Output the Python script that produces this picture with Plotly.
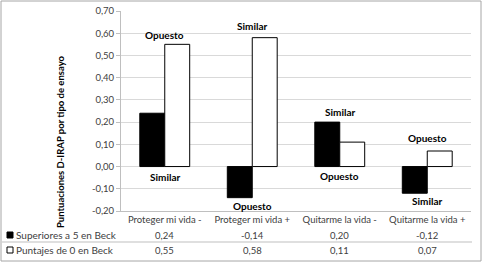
import plotly.graph_objects as go

categories = ["Proteger mi vida -", "Proteger mi vida +", "Quitarme la vida -", "Quitarme la vida +"]
series_names = ["Superiores a 5 en Beck", "Puntajes de 0 en Beck"]
beck_high = [0.24, -0.14, 0.20, -0.12]
beck_zero = [0.55, 0.58, 0.11, 0.07]
top_labels = ["Opuesto", "Similar", "Similar", "Opuesto"]
bottom_labels = ["Similar", "Opuesto", "Opuesto", "Similar"]
y_ticks = [-0.20, -0.10, 0.00, 0.10, 0.20, 0.30, 0.40, 0.50, 0.60, 0.70]

# label pixel nudges (style only)
top_shift = [0, 3, 1, 4]
bottom_shift = [-1, 1, 0, 1]

W, H = 482, 263
L, R, T, B = 121, 11, 11, 52
pw, ph = W - L - R, H - T - B

def px(x):
    return (x - L) / pw

def py(y):
    return (H - B - y) / ph

def fmt(v):
    return f"{v:.2f}".replace(".", ",")

FONT = "Lato"
TXT = "#404040"

fig = go.Figure()
fig.add_trace(go.Bar(x=categories, y=beck_high, name=series_names[0],
                     marker=dict(color="#000000", line=dict(color="#000000", width=1))))
fig.add_trace(go.Bar(x=categories, y=beck_zero, name=series_names[1],
                     marker=dict(color="#ffffff", line=dict(color="#000000", width=1))))

annotations = []
for i, (c, a, b, t, bl) in enumerate(zip(categories, beck_high, beck_zero, top_labels, bottom_labels)):
    annotations.append(dict(x=c, y=max(a, b, 0), xref="x", yref="y", text=f"<b>{t}</b>",
                            showarrow=False, yanchor="bottom", yshift=1 + top_shift[i],
                            font=dict(family=FONT, size=10, color="#000000")))
    annotations.append(dict(x=c, y=min(a, b, 0), xref="x", yref="y", text=f"<b>{bl}</b>",
                            showarrow=False, yanchor="top", yshift=-1 + bottom_shift[i],
                            font=dict(family=FONT, size=10, color="#000000")))

row_y = [235, 250]
for vals, ry in zip([beck_high, beck_zero], row_y):
    for c, v in zip(categories, vals):
        annotations.append(dict(x=c, y=py(ry), xref="x", yref="paper", text=fmt(v),
                                showarrow=False, yanchor="middle",
                                font=dict(family=FONT, size=9.5, color=TXT)))

for name, ry in zip(series_names, row_y):
    annotations.append(dict(x=px(14), y=py(ry), xref="paper", yref="paper", text=name,
                            xanchor="left", yanchor="middle", showarrow=False,
                            font=dict(family=FONT, size=10, color=TXT)))

annotations.append(dict(x=px(60), y=py(142), xref="paper", yref="paper",
                        xanchor="center", yanchor="middle",
                        text="<b>Puntuaciones D-IRAP por tipo de ensayo</b>", textangle=-90,
                        showarrow=False, font=dict(family=FONT, size=9.5, color="#000000")))

shapes = [
    dict(type="rect", xref="paper", yref="paper", x0=px(1), x1=px(481), y0=py(1), y1=py(261),
         line=dict(color="#a6a6a6", width=1)),
    dict(type="line", xref="paper", yref="paper", x0=px(2), x1=px(472), y0=py(242), y1=py(242),
         line=dict(color="#bfbfbf", width=1)),
    dict(type="rect", xref="paper", yref="paper", x0=px(7), x1=px(13), y0=py(232), y1=py(238),
         line=dict(color="#000000", width=1), fillcolor="#000000"),
    dict(type="rect", xref="paper", yref="paper", x0=px(7), x1=px(13), y0=py(247), y1=py(253),
         line=dict(color="#000000", width=1), fillcolor="#ffffff"),
]

fig.update_layout(
    width=W, height=H,
    margin=dict(l=L, r=R, t=T, b=B, autoexpand=False),
    paper_bgcolor="#ffffff", plot_bgcolor="#ffffff",
    showlegend=False,
    barmode="group", bargap=0.43, bargroupgap=0,
    annotations=annotations, shapes=shapes,
    font=dict(family=FONT, size=9.5, color=TXT),
)
fig.update_xaxes(showgrid=False, showline=True, linecolor="#bfbfbf", ticks="",
                 automargin=False, tickfont=dict(family=FONT, size=9.5, color=TXT))
fig.update_yaxes(range=[-0.20, 0.70], tickvals=y_ticks, ticktext=[fmt(v) for v in y_ticks],
                 showgrid=True, gridcolor="#d9d9d9", zeroline=False, automargin=False,
                 showline=True, linecolor="#bfbfbf", ticks="outside", ticklen=4,
                 tickcolor="#bfbfbf", tickfont=dict(family=FONT, size=9.5, color=TXT))

fig.write_html("out.html", config={"displayModeBar": False},
               post_script="document.body.style.margin='0';document.body.style.overflow='hidden';")
